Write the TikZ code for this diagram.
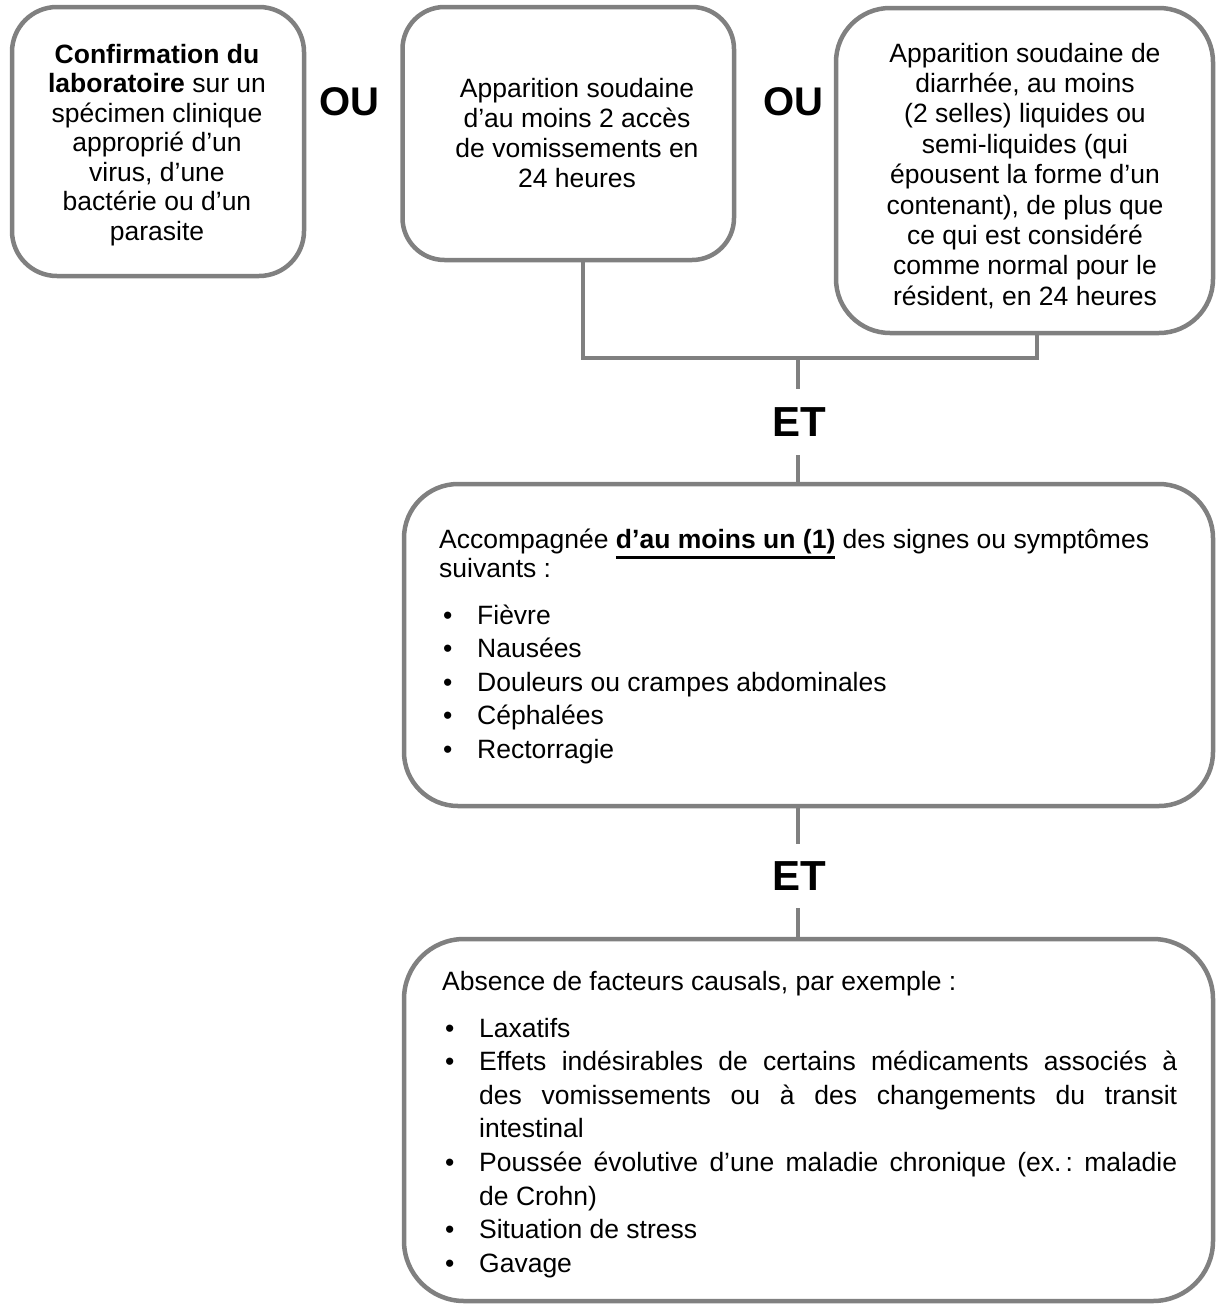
\documentclass[tikz,border=0pt]{standalone}
\usepackage{fontspec}
\setmainfont{Liberation Sans}
\definecolor{linegray}{HTML}{808080}
\newcommand\ulbold[1]{\setbox0\hbox{\textbf{#1}}\rlap{\raisebox{-10.5pt}[0pt][0pt]{\rule{\wd0}{2.5pt}}}\box0\relax}
\newcommand\bitem[1]{\par\hangindent=34pt\hangafter=1\noindent\makebox[34pt][l]{\textbullet}#1}
\tikzset{
  box/.style={draw=linegray, line width=4.5pt, rectangle, inner sep=0pt, fill=white},
  conn/.style={draw=linegray, line width=4.5pt},
  linkword/.style={font=\fontsize{42}{48}\selectfont\bfseries, inner sep=0pt},
  orword/.style={font=\fontsize{40}{46}\selectfont\bfseries, inner sep=0pt},
  ltxt/.style={anchor=base west, inner sep=0pt},
  ctxt/.style={anchor=base, inner sep=0pt},
}
\begin{document}
\frenchspacing
\begin{tikzpicture}[x=1pt,y=-1pt]
\useasboundingbox (0,0) rectangle (1217,1304);

% boxes
\node[box, rounded corners=45pt, minimum width=292pt, minimum height=269pt] (L) at (158,141.5) {};
\node[box, rounded corners=42pt, minimum width=331.5pt, minimum height=253pt] (M) at (568.25,133.5) {};
\node[box, rounded corners=54pt, minimum width=377pt, minimum height=325pt] (R) at (1024.5,170.5) {};
\node[box, rounded corners=54pt, minimum width=809pt, minimum height=322pt] (B1) at (808.5,645) {};
\node[box, rounded corners=60pt, minimum width=809pt, minimum height=362pt] (B2) at (808.5,1120) {};

% OU labels
\node[orword] (OU1) at (349,102) {OU};
\node[orword] (OU2) at (793,102) {OU};

% ET labels
\node[linkword, minimum height=66pt] (ET1) at (799,422) {ET};
\node[linkword, minimum height=64pt] (ET2) at (799,876) {ET};

% connectors
\coordinate (j1) at (798,358);
\draw[conn] ([xshift=14.75pt]M.south) |- (j1) -| ([xshift=12.5pt]R.south);
\draw[conn] (j1) -- (j1 |- ET1.north);
\draw[conn] (j1 |- ET1.south) -- (j1 |- B1.north);
\draw[conn] (j1 |- B1.south) -- (j1 |- ET2.north);
\draw[conn] (j1 |- ET2.south) -- (j1 |- B2.north);

% texts of the top boxes
\node[ctxt] (tL) at (157,63) {\parbox[t]{290pt}{\centering\fontsize{26.5}{29.5}\selectfont
  \textbf{Confirmation du}\\ \textbf{laboratoire} sur un\\ spécimen clinique\\ approprié d’un\\ virus, d’une\\ bactérie ou d’un\\ parasite}};

\node[ctxt] (tM) at (577,97) {\parbox[t]{320pt}{\centering\fontsize{26.5}{30}\selectfont
  Apparition soudaine\\ d’au moins 2 accès\\ de vomissements en\\ 24 heures}};

\begin{scope}
\clip (830,0) rectangle (1220,308.5);
\node[ctxt] (tR) at (1025,62) {\parbox[t]{370pt}{\centering\fontsize{26.5}{30.4}\selectfont
  Apparition soudaine de\\ diarrhée, au moins\\ (2 selles) liquides ou\\ semi-liquides (qui\\ épousent la forme d’un\\ contenant), de plus que\\ ce qui est considéré\\ comme normal pour le\\ résident, en 24 heures}};
\end{scope}

% text of box B1
\node[ltxt] (tB1) at (439,548) {\parbox[t]{760pt}{\raggedright\fontsize{26.5}{29}\selectfont
  Accompagnée \ulbold{d’au moins un (1)} des signes ou symptômes\\ suivants :}};
\node[ltxt] (lB1) at (443,624) {\parbox[t]{740pt}{\raggedright\fontsize{26.5}{33.5}\selectfont
  \bitem{Fièvre}
  \bitem{Nausées}
  \bitem{Douleurs ou crampes abdominales}
  \bitem{Céphalées}
  \bitem{Rectorragie}}};

% text of box B2
\node[ltxt] (tB2) at (442,990) {\parbox[t]{740pt}{\raggedright\fontsize{26.5}{29}\selectfont
  Absence de facteurs causals, par exemple :}};
\node[ltxt] (lB2) at (445,1037) {\parbox[t]{732pt}{\fontsize{26.5}{33.6}\selectfont
  \bitem{Laxatifs}
  \bitem{Effets indésirables de certains médicaments associés à\linebreak des vomissements ou à des changements du transit\linebreak intestinal}
  \bitem{Poussée évolutive d’une maladie chronique (ex.\kern4pt: maladie\linebreak de Crohn)}
  \bitem{Situation de stress}
  \bitem{Gavage}}};
\end{tikzpicture}
\end{document}
